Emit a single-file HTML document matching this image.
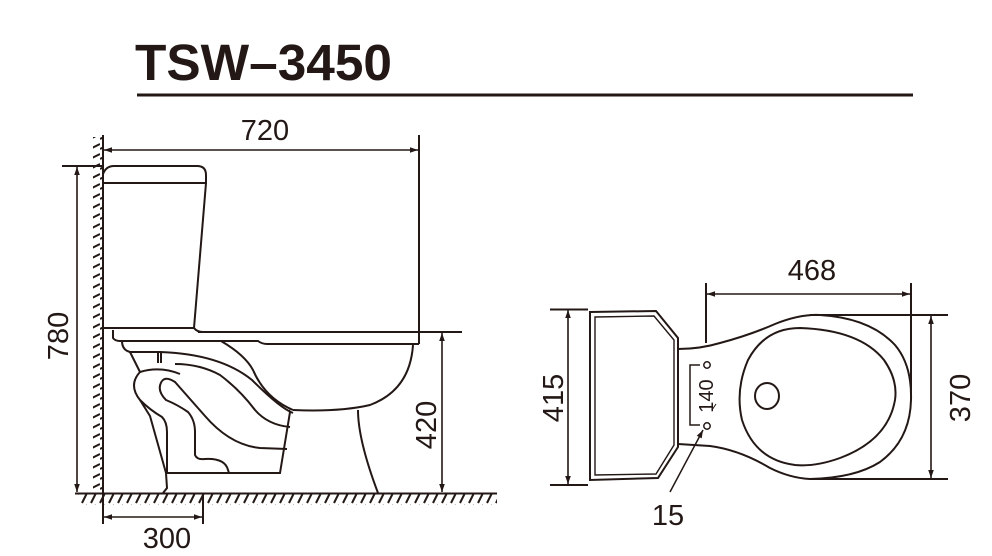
<!DOCTYPE html>
<html><head><meta charset="utf-8"><style>
html,body{margin:0;padding:0;background:#fff;}
svg{display:block;}
text{font-family:"Liberation Sans",sans-serif;fill:#231815;}
</style></head><body>
<svg width="992" height="556" viewBox="0 0 992 556" xmlns="http://www.w3.org/2000/svg">
<defs>
<marker id="a" viewBox="0 0 10 10" refX="10" refY="5" markerWidth="11" markerHeight="8" orient="auto-start-reverse" markerUnits="userSpaceOnUse"><path d="M0,1.5 L10,5 L0,8.5 Z" fill="#231815"/></marker>
<pattern id="wh" width="10" height="10" patternUnits="userSpaceOnUse"><path d="M0,9 L10,4" stroke="#231815" stroke-width="2"/></pattern>
<pattern id="fh" width="9" height="12" patternUnits="userSpaceOnUse"><path d="M1,11 L6,1" stroke="#231815" stroke-width="2"/></pattern>
</defs>
<text x="135" y="80" font-size="51" font-weight="bold" textLength="257" lengthAdjust="spacingAndGlyphs">TSW–3450</text>
<rect x="137" y="93.5" width="776" height="3" fill="#231815"/>

<g stroke="#231815" fill="none" stroke-width="2">
<rect x="93" y="137" width="10" height="356" fill="url(#wh)" stroke="none"/>
<rect x="78" y="494" width="419" height="11" fill="url(#fh)" stroke="none"/>
<line x1="103" y1="135" x2="103" y2="524"/>
<line x1="75" y1="493.5" x2="497" y2="493.5"/>
<line x1="104" y1="150" x2="418" y2="150" marker-start="url(#a)" marker-end="url(#a)" stroke-width="1.6"/>
<line x1="419" y1="135" x2="419" y2="344"/>
<line x1="62" y1="166" x2="103" y2="166"/>
<line x1="77" y1="167" x2="77" y2="492" marker-start="url(#a)" marker-end="url(#a)" stroke-width="1.6"/>
<line x1="198" y1="332" x2="462" y2="332"/>
<line x1="442" y1="333" x2="442" y2="492" marker-start="url(#a)" marker-end="url(#a)" stroke-width="1.6"/>
<line x1="203" y1="494" x2="203" y2="524"/>
<line x1="104" y1="517" x2="202" y2="517" marker-start="url(#a)" marker-end="url(#a)" stroke-width="1.6"/>
<path d="M103,183 L103,174 Q106,166 114,166 L197,166 Q206,166 206,175 L206,183 Z"/>
<path d="M206,183 L194,328 L103,328"/>
<path d="M194,328 Q197,332 203,332"/>
<path d="M113,330 L113,338 Q115,341 120,341 L258,341 Q262,344 267,344 L419,344"/>
<path d="M413,345 Q410,390 370,405 Q340,412 293,410"/>
<path d="M122,341 Q122,350 130,352 L160,352 Q220,354 252,380 Q280,408 293,413"/>
<path d="M221,341 Q245,355 253,370 Q265,398 293,410"/>
<path d="M130,352 L140,372 Q160,366 180,374"/>
<line x1="158" y1="352" x2="158" y2="363"/>
<line x1="161" y1="352" x2="161" y2="363"/>
<path d="M140,372 Q128,385 140,400 Q145,408 150,416 L166,473 L167,488 L163,493"/>
<path d="M140,400 Q150,410 162,417 Q167,422 167,432 L167,473 L280,473 L290,412 L289,410"/>
<path d="M162,381 Q166,376 175,382 L205,416 Q230,445 260,448 L287,449"/>
<path d="M162,381 Q156,390 166,400 Q178,405 188,412 Q195,420 195,432 L195,455 Q197,460 205,459 Q225,458 228,470 L229,473"/>
<path d="M175,364 Q200,364 220,375 Q240,390 255,410 Q268,425 290,427"/>
<path d="M358,410 Q358,440 378,493"/>
<line x1="706" y1="283" x2="706" y2="343"/>
<line x1="911" y1="283" x2="911" y2="398"/>
<line x1="707" y1="294" x2="910" y2="294" marker-start="url(#a)" marker-end="url(#a)" stroke-width="1.6"/>
<line x1="550" y1="309.5" x2="588" y2="309.5"/>
<line x1="550" y1="485" x2="588" y2="485"/>
<line x1="568" y1="310" x2="568" y2="484" marker-start="url(#a)" marker-end="url(#a)" stroke-width="1.6"/>
<line x1="810" y1="315" x2="948" y2="315"/>
<line x1="810" y1="479" x2="948" y2="479"/>
<line x1="931" y1="316" x2="931" y2="478" marker-start="url(#a)" marker-end="url(#a)" stroke-width="1.6"/>
<path d="M590,312 L656,311 L678,338 L678,447 L658,478 L590,480 Z"/>
<path d="M595,317 L654,316 L674,340 L674,445 L656,474 L595,475 Z" stroke-width="1.4"/>
<path d="M678,349 Q700,349 720,343 Q750,335 775,324 Q800,314 820,315 Q870,318 895,345 Q912,365 911,400 Q910,440 880,462 Q855,478 810,479 Q790,478 770,468 Q740,450 710,446 L678,444"/>
<path d="M800,328 Q860,330 884,360 Q898,380 895,400 Q888,440 840,458 Q815,467 795,465 Q755,460 742,420 Q735,390 748,360 Q765,328 800,328 Z"/>
<ellipse cx="767" cy="396" rx="12" ry="13"/>
<circle cx="707" cy="365" r="3.2" stroke-width="1.5"/>
<circle cx="707" cy="426" r="3.2" stroke-width="1.5"/>
<path d="M700,365 L690,365 L690,425 L700,425" stroke-width="1.5"/>
<line x1="712" y1="410" x2="716" y2="404" stroke-width="1"/>
<line x1="670" y1="492" x2="703" y2="430" marker-end="url(#a)" stroke-width="1.5"/>
</g>

<g font-size="29">
<text x="265" y="140" text-anchor="middle">720</text>
<text x="167" y="548" text-anchor="middle">300</text>
<text x="812" y="280" text-anchor="middle">468</text>
<text x="668" y="525" text-anchor="middle">15</text>
<text transform="translate(68,336) rotate(-90)" text-anchor="middle">780</text>
<text transform="translate(436,425) rotate(-90)" text-anchor="middle">420</text>
<text transform="translate(563,398) rotate(-90)" text-anchor="middle">415</text>
<text transform="translate(970,398) rotate(-90)" text-anchor="middle">370</text>
<text transform="translate(713,396) rotate(-90)" text-anchor="middle" font-size="20">140</text>
</g>
</svg>
</body></html>
